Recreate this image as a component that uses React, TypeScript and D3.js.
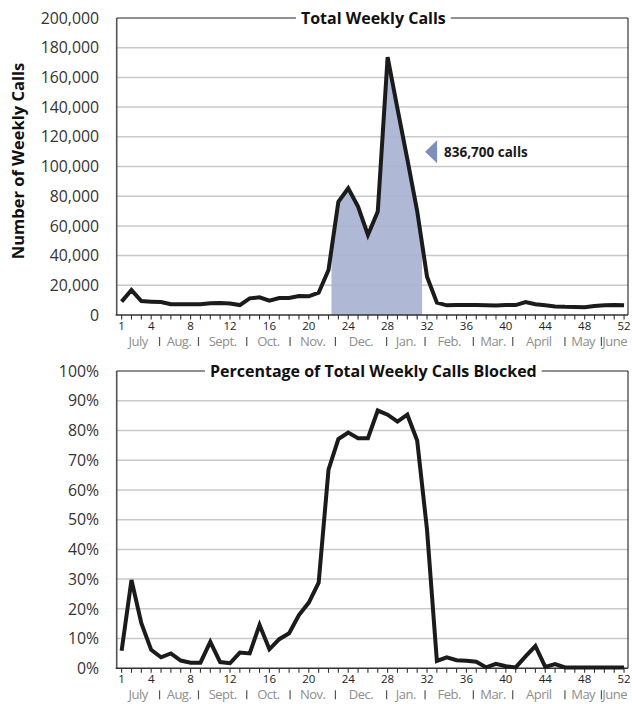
import React, { useRef, useEffect } from "react";
import * as d3 from "d3";

// week index along the x axis (July .. June)
const weeks = d3.range(1, 53);

// total calls per week
const weeklyCalls = [
  9000, 16800, 9400, 9000, 8700, 7200, 7200, 7200, 7300, 7900,
  8000, 7800, 6700, 11200, 11900, 9600, 11400, 11400, 12800, 12600,
  15000, 30300, 76300, 85300, 73000, 53900, 69600, 173700, 139000, 105000,
  70000, 25800, 8300, 6500, 6800, 6800, 6700, 6500, 6400, 6700,
  6700, 8700, 7200, 6500, 5800, 5500, 5400, 5200, 6000, 6600,
  6800, 6500,
];

// share of the week's calls that were blocked (%)
const blockedPct = [
  5.9, 29.7, 15.2, 6.2, 3.7, 5.0, 2.6, 1.9, 1.9, 8.9,
  2.1, 1.7, 5.3, 5.0, 14.6, 6.4, 9.8, 11.8, 17.9, 22.1,
  28.8, 66.8, 77.1, 79.3, 77.4, 77.4, 86.7, 85.3, 83.0, 85.3,
  76.6, 46.6, 2.5, 3.7, 2.7, 2.5, 2.2, 0.3, 1.5, 0.7,
  0.3, 4.0, 7.5, 0.5, 1.4, 0.3, 0.3, 0.3, 0.3, 0.3,
  0.3, 0.3,
];

const weekTickLabels = [1, 4, 8, 12, 16, 20, 24, 28, 32, 36, 40, 44, 48, 52];
const monthNames = ["July", "Aug.", "Sept.", "Oct.", "Nov.", "Dec.", "Jan.", "Feb.", "Mar.", "April", "May", "June"];
// month boundaries, in weeks
const monthBreaks = [4.85, 8.8, 13.7, 18.1, 22.7, 27.9, 31.8, 36.7, 40.7, 46, 49.7];

const callTicks = [0, 20000, 40000, 60000, 80000, 100000, 120000, 140000, 160000, 180000, 200000];
const pctTicks = [0, 10, 20, 30, 40, 50, 60, 70, 80, 90, 100];

// highlighted peak window (weeks) and its total
const peakWindow = [22.3, 31.5];
const peakLabel = "836,700 calls";

const W = 632;
const H = 704;
const LEFT = 116.7;
const RIGHT = 628;
const WEEK_DOMAIN = [0.5, 52.4];
const FONT = "'Open Sans', 'DejaVu Sans', sans-serif";

interface PanelOpts {
  top: number;
  bottom: number;
  values: number[];
  ticks: number[];
  fmt: (v: number) => string;
  title: string;
  shade?: number[];
}

function drawPanel(svg: d3.Selection<SVGSVGElement, unknown, null, undefined>, id: string, o: PanelOpts) {
  const g = svg.append("g").attr("class", "panel");
  const max = o.ticks[o.ticks.length - 1];

  const x = d3.scaleLinear().domain(WEEK_DOMAIN).range([LEFT, RIGHT]);
  const y = d3.scaleLinear().domain([0, max]).range([o.bottom, o.top]);

  // gridlines
  g.selectAll(".grid")
    .data(o.ticks.filter(t => t > 0 && t < max))
    .join("line")
    .attr("class", "grid")
    .attr("x1", LEFT)
    .attr("x2", RIGHT)
    .attr("y1", d => y(d))
    .attr("y2", d => y(d))
    .attr("stroke", "#c9c9c9")
    .attr("stroke-width", 1.5);

  // shaded peak
  if (o.shade) {
    g.append("clipPath")
      .attr("id", id + "-clip")
      .append("rect")
      .attr("x", x(o.shade[0]))
      .attr("width", x(o.shade[1]) - x(o.shade[0]))
      .attr("y", o.top)
      .attr("height", o.bottom - o.top);

    const area = d3
      .area<number>()
      .x((d, i) => x(weeks[i]))
      .y0(y(0))
      .y1(d => y(d));

    g.append("path")
      .attr("d", area(o.values))
      .attr("clip-path", `url(#${id}-clip)`)
      .attr("fill", "#a8b3d3")
      .attr("fill-opacity", 0.92);
  }

  // y labels
  g.selectAll(".ylab")
    .data(o.ticks)
    .join("text")
    .attr("class", "ylab")
    .attr("x", 99)
    .attr("y", d => y(d))
    .attr("dy", "0.36em")
    .attr("text-anchor", "end")
    .attr("font-family", FONT)
    .attr("font-size", 15.8)
    .attr("fill", "#333")
    .text(o.fmt);

  // frame
  g.append("line")
    .attr("x1", LEFT).attr("x2", LEFT)
    .attr("y1", o.top).attr("y2", o.bottom)
    .attr("stroke", "#555").attr("stroke-width", 1.6);
  g.append("line")
    .attr("x1", RIGHT).attr("x2", RIGHT)
    .attr("y1", o.top).attr("y2", o.bottom)
    .attr("stroke", "#222").attr("stroke-width", 1.1);
  g.append("line")
    .attr("x1", LEFT).attr("x2", RIGHT)
    .attr("y1", o.top).attr("y2", o.top)
    .attr("stroke", "#222").attr("stroke-width", 1.1);
  g.append("line")
    .attr("x1", LEFT - 1).attr("x2", RIGHT)
    .attr("y1", o.bottom).attr("y2", o.bottom)
    .attr("stroke", "#333").attr("stroke-width", 1.6);

  // week ticks
  g.selectAll(".wtick")
    .data(weeks)
    .join("line")
    .attr("class", "wtick")
    .attr("x1", d => x(d)).attr("x2", d => x(d))
    .attr("y1", o.bottom).attr("y2", o.bottom + 4.5)
    .attr("stroke", "#333").attr("stroke-width", 1.1);

  g.selectAll(".wlab")
    .data(weekTickLabels)
    .join("text")
    .attr("class", "wlab")
    .attr("x", d => x(d))
    .attr("y", o.bottom + 15)
    .attr("text-anchor", "middle")
    .attr("font-family", FONT)
    .attr("font-size", 11.5)
    .attr("fill", "#222")
    .text(d => d);

  // months
  const edges = [WEEK_DOMAIN[0], ...monthBreaks, WEEK_DOMAIN[1]];
  const last = monthNames.length - 1;
  g.selectAll(".month")
    .data(monthNames)
    .join("text")
    .attr("class", "month")
    .attr("x", (d, i) => (i === last ? RIGHT - 1 : x((edges[i] + edges[i + 1]) / 2)))
    .attr("y", o.bottom + 31)
    .attr("text-anchor", (d, i) => (i === last ? "end" : "middle"))
    .attr("font-family", FONT)
    .attr("font-size", 13)
    .attr("letter-spacing", -0.5)
    .attr("fill", "#8e8e8e")
    .text(d => d);

  g.selectAll(".msep")
    .data(monthBreaks)
    .join("line")
    .attr("class", "msep")
    .attr("x1", d => x(d)).attr("x2", d => x(d))
    .attr("y1", o.bottom + 22).attr("y2", o.bottom + 31)
    .attr("stroke", "#555").attr("stroke-width", 1.2);

  // series line
  const line = d3
    .line<number>()
    .x((d, i) => x(weeks[i]))
    .y(d => y(d));

  g.append("path")
    .attr("d", line(o.values))
    .attr("fill", "none")
    .attr("stroke", "#1b1b1b")
    .attr("stroke-width", 4)
    .attr("stroke-linejoin", "miter");

  // title sitting on the top frame line
  const cx = (LEFT + RIGHT) / 2 + 1;
  const bg = g.append("rect").attr("fill", "white");
  const title = g.append("text")
    .attr("x", cx)
    .attr("y", o.top + 5.5)
    .attr("text-anchor", "middle")
    .attr("font-family", FONT)
    .attr("font-weight", 700)
    .attr("font-size", 16)
    .attr("fill", "#111")
    .text(o.title);
  const len = (title.node() as SVGTextElement).getComputedTextLength();
  bg.attr("x", cx - len / 2 - 5).attr("width", len + 10)
    .attr("y", o.top - 3).attr("height", 6);

  return { x, y };
}

export default function App() {
  const svgRef = useRef<SVGSVGElement>(null);

  useEffect(() => {
    if (!svgRef.current) return;
    const svg = d3.select(svgRef.current);
    svg.selectAll("*").remove();

    const fmtCalls = d3.format(",");
    const top = drawPanel(svg, "calls", {
      top: 18,
      bottom: 315,
      values: weeklyCalls,
      ticks: callTicks,
      fmt: d => fmtCalls(d),
      title: "Total Weekly Calls",
      shade: peakWindow,
    });

    drawPanel(svg, "pct", {
      top: 371,
      bottom: 668.3,
      values: blockedPct,
      ticks: pctTicks,
      fmt: d => d + "%",
      title: "Percentage of Total Weekly Calls Blocked",
    });

    // peak annotation
    const tipX = top.x(peakWindow[1]) + 3;
    const tipY = top.y(110000);
    svg.append("path")
      .attr("d", `M${tipX},${tipY} L${tipX + 12},${tipY - 11.5} L${tipX + 12},${tipY + 11.5} Z`)
      .attr("fill", "#7d8fbb");
    svg.append("text")
      .attr("x", tipX + 19)
      .attr("y", tipY + 5)
      .attr("font-family", FONT)
      .attr("font-weight", 700)
      .attr("font-size", 13.5)
      .attr("fill", "#1a1a1a")
      .text(peakLabel);

    // y axis title for the top panel
    svg.append("text")
      .attr("transform", `translate(24,161) rotate(-90)`)
      .attr("text-anchor", "middle")
      .attr("font-family", FONT)
      .attr("font-weight", 700)
      .attr("font-size", 16.5)
      .attr("fill", "#111")
      .text("Number of Weekly Calls");
  }, []);

  return (
    <svg
      ref={svgRef}
      width={W}
      height={H}
      style={{ position: "absolute", left: 0, top: 0, background: "white" }}
    />
  );
}
